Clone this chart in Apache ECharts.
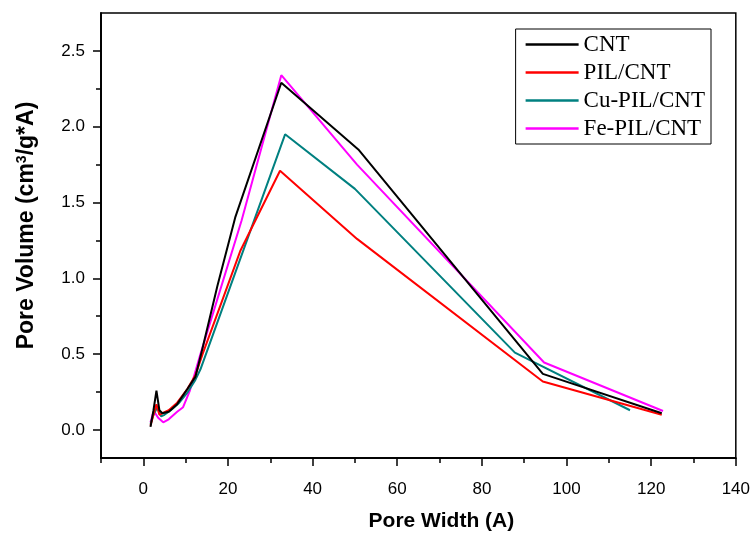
<!DOCTYPE html>
<html><head><meta charset="utf-8">
<script src="https://cdn.jsdelivr.net/npm/echarts@6/dist/echarts.min.js"></script>
<style>html,body{margin:0;padding:0;background:#fff}#c{width:753px;height:537px}</style>
</head><body><div id="c"></div>
<script>
const seriesNames = ['CNT', 'PIL/CNT', 'Cu-PIL/CNT', 'Fe-PIL/CNT'];
const seriesColors = ['#000000', '#ff0000', '#008080', '#ff00ff'];
const cntData = [[1.7,0.02],[2.4,0.13],[3.1,0.26],[3.8,0.13],[4.5,0.11],[6,0.12],[8,0.17],[10.4,0.27],[12.3,0.35],[14,0.54],[17.5,0.95],[21.7,1.40],[32.6,2.29],[50.8,1.85],[94.4,0.37],[122.5,0.11]];
const pilData = [[1.7,0.03],[2.4,0.1],[3.1,0.17],[3.8,0.1],[4.5,0.11],[6,0.13],[8,0.18],[10.4,0.27],[12.3,0.36],[14,0.5],[18.2,0.82],[22.9,1.18],[32.3,1.71],[50.5,1.26],[94.4,0.32],[122.5,0.1]];
const cuData = [[1.7,0.04],[2.4,0.1],[3.3,0.15],[4.2,0.09],[5,0.1],[6.5,0.13],[8.5,0.18],[10.5,0.25],[12.3,0.33],[13.5,0.4],[33.5,1.95],[50,1.59],[87.8,0.51],[115,0.13]];
const feData = [[1.7,0.05],[2.2,0.1],[2.6,0.12],[3.5,0.08],[4.7,0.05],[6,0.07],[8,0.12],[9.4,0.15],[11,0.26],[13.5,0.5],[23.2,1.38],[32.6,2.34],[50.5,1.75],[94.7,0.445],[122.8,0.125]];
const xTickLabels = [0,20,40,60,80,100,120,140];
const xMinorTicks = [-10,10,30,50,70,90,110,130];
const yTickLabels = [0,0.5,1.0,1.5,2.0,2.5];
const yMinorTicks = [0.25,0.75,1.25,1.75,2.25];

const allData = [cntData, pilData, cuData, feData];
const chart = echarts.init(document.getElementById('c'), null, {renderer:'canvas'});
const lab = {fontFamily:'Liberation Sans, Arial', fontSize:17, color:'#000'};
const axLine = {show:true, onZero:false, lineStyle:{color:'#000', width:1.5}};
const yMin = -0.185, yMax = 2.75;
chart.setOption({
  animation:false,
  backgroundColor:'#fff',
  grid:{left:101, top:13, right:17, bottom:75, show:true, borderColor:'#000', borderWidth:1.5, backgroundColor:'transparent'},
  legend:{
    orient:'vertical', right:42, top:29, data:seriesNames,
    icon:'rect', itemWidth:53, itemHeight:2.5, itemGap:5,
    borderColor:'#000', borderWidth:1, padding:[4,6,4,10],
    textStyle:{fontFamily:'Liberation Serif, Times New Roman', fontSize:23, lineHeight:22.5, color:'#000'}
  },
  xAxis:[{
    type:'value', min:-10, max:140,
    name:'Pore Width (A)', nameLocation:'middle', nameGap:53,
    nameTextStyle:{fontFamily:'Liberation Sans, Arial', fontSize:21, fontWeight:'bold', color:'#000', padding:[0,0,0,46]},
    axisLine:axLine,
    axisTick:{show:true, inside:false, length:8, customValues:xTickLabels, lineStyle:{color:'#000', width:1.5}},
    axisLabel:{...lab, margin:23, customValues:xTickLabels},
    splitLine:{show:false}
  },{
    type:'value', min:-10, max:140, position:'bottom',
    axisLine:axLine,
    axisTick:{show:true, inside:false, length:5, customValues:xMinorTicks, lineStyle:{color:'#000', width:1.5}},
    axisLabel:{show:false}, splitLine:{show:false}
  }],
  yAxis:[{
    type:'value', min:yMin, max:yMax,
    name:'Pore Volume (cm{sup|3}/g*A)', nameLocation:'middle', nameGap:62, nameRotate:90,
    nameTextStyle:{fontFamily:'Liberation Sans, Arial', fontSize:23, fontWeight:'bold', color:'#000', padding:[0,0,0,20],
      rich:{sup:{fontFamily:'Liberation Sans, Arial', fontSize:14, fontWeight:'bold', verticalAlign:'top', padding:[0,0,10,0]}}},
    axisLine:axLine,
    axisTick:{show:true, inside:false, length:8, customValues:yTickLabels, lineStyle:{color:'#000', width:1.5}},
    axisLabel:{...lab, margin:16, customValues:yTickLabels, formatter:v=>v.toFixed(1)},
    splitLine:{show:false}
  },{
    type:'value', min:yMin, max:yMax, position:'left',
    axisLine:axLine,
    axisTick:{show:true, inside:false, length:5, customValues:yMinorTicks, lineStyle:{color:'#000', width:1.5}},
    axisLabel:{show:false}, splitLine:{show:false}
  }],
  series: seriesNames.map((n,i)=>({
    name:n, type:'line', data:allData[i], symbol:'none', smooth:false,
    lineStyle:{color:seriesColors[i], width:2}, itemStyle:{color:seriesColors[i]}, z:10-i
  }))
});
</script></body></html>
